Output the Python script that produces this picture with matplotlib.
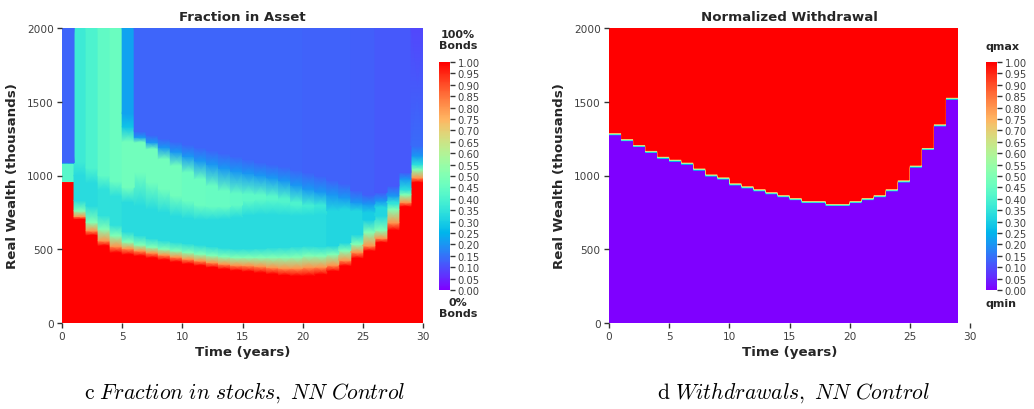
import numpy as np
import matplotlib
matplotlib.use("Agg")
import matplotlib.pyplot as plt

plt.rcParams["font.family"] = ["DejaVu Sans"]
plt.rcParams["mathtext.fontset"] = "cm"

# ---------------------------------------------------------------
# Fraction in asset: per-year profile over wealth (thousands).
# Each array gives, for years 0..29, the wealth at which the
# profile reaches the listed level.
# ---------------------------------------------------------------
years = np.arange(30)

red_top = [958, 705, 595, 525, 478, 465, 456, 443, 430, 416, 402, 390, 378, 367, 357,
           350, 342, 333, 324, 320, 321, 330, 352, 388, 440, 490, 547, 630, 790, 954]
orange_w = [959, 722, 626, 558, 520, 505, 490, 476, 462, 448, 434, 422, 410, 400, 392,
            390, 385, 377, 372, 372, 378, 380, 392, 425, 480, 524, 575, 680, 818, 985]
green_w = [961, 760, 683, 637, 592, 550, 530, 515, 502, 490, 479, 468, 458, 450, 445,
           445, 445, 445, 445, 447, 456, 455, 465, 490, 535, 615, 630, 770, 870, 1040]
cyan_lo = [964, 830, 795, 730, 665, 620, 595, 575, 560, 550, 540, 530, 520, 510, 505,
           505, 508, 512, 515, 520, 524, 520, 525, 545, 600, 700, 727, 810, 905, 1075]
cyan_hi = [1080, 1000, 950, 905, 860, 818, 795, 772, 750, 725, 710, 700, 700, 705, 715,
           730, 735, 735, 730, 727, 727, 735, 760, 770, 760, 750, 784, 818, 909, 1078]
upper_lo = [1081, 1090, 1050, 1000, 960, 920, 1022, 954, 909, 863, 829, 800, 790, 790, 800,
            830, 840, 835, 820, 800, 790, 790, 760, 770, 760, 750, 784, 818, 909, 1078]
upper_hi = [1082, 2000, 2000, 2000, 2000, 1230, 1225, 1180, 1112, 1067, 1022, 976, 931, 897, 880,
            875, 870, 860, 845, 820, 800, 800, 760, 770, 760, 750, 784, 818, 909, 1078]
sky_w = [1085, 2000, 2000, 2000, 2000, 1330, 1260, 1225, 1190, 1160, 1130, 1100, 1075, 1050, 1030,
         1015, 1000, 985, 965, 935, 909, 890, 870, 850, 818, 807, 829, 863, 977, 1134]
blue_w = [1090, 2000, 2000, 2000, 2000, 1420, 1300, 1275, 1250, 1230, 1210, 1190, 1170, 1150, 1130,
          1110, 1090, 1075, 1060, 1040, 1022, 999, 970, 945, 900, 870, 886, 931, 1022, 1202]

green_val = [0.45] + [0.50] * 29
cyan_val = [0.42, 0.33, 0.33, 0.34, 0.34] + [0.33] * 17 + [0.32, 0.32, 0.32, 0.30, 0.32, 0.35, 0.33, 0.33]
upper_val = [0.42, 0.37, 0.40, 0.44, 0.46, 0.47, 0.47, 0.47, 0.47, 0.47, 0.46, 0.46, 0.45, 0.45, 0.44,
             0.43, 0.43, 0.42, 0.41, 0.40, 0.38, 0.36, 0.32, 0.32, 0.32, 0.30, 0.32, 0.35, 0.33, 0.33]
sky_val = [0.20, 0.37, 0.40, 0.44, 0.46, 0.28] + [0.20] * 24
blue_val = [0.13, 0.37, 0.40, 0.44, 0.46, 0.22] + [0.13] * 14 + [0.127] * 4 + [0.122] * 2 + [0.115] * 3 + [0.14]
top_val = [0.13, 0.37, 0.40, 0.44, 0.46, 0.22] + [0.13] * 14 + [0.127] * 4 + [0.122] * 2 + [0.115] * 3 + [0.09]

# ---------------------------------------------------------------
# Normalized withdrawal: wealth above which withdrawal is qmax
# (years 0..28)
# ---------------------------------------------------------------
withdraw_years = np.arange(29)
q_threshold = [1275, 1232, 1198, 1162, 1128, 1096, 1071, 1040, 1008, 976, 949, 917, 895, 881,
               863, 845, 827, 814, 805, 805, 814, 836, 859, 899, 965, 1058, 1184, 1342, 1519]

W_MAX = 2000
x_ticks = [0, 5, 10, 15, 20, 25, 30]
y_ticks = [0, 500, 1000, 1500, 2000]
cbar_ticks = np.round(np.arange(0, 1.0001, 0.05), 2)

FIG_W, FIG_H = 1034, 410
fig = plt.figure(figsize=(FIG_W / 100, FIG_H / 100), dpi=100)


def px_box(x0, y0, x1, y1):
    return [x0 / FIG_W, 1 - y1 / FIG_H, (x1 - x0) / FIG_W, (y1 - y0) / FIG_H]


ax1 = fig.add_axes(px_box(62, 29, 423, 324))
cax1 = fig.add_axes(px_box(439, 63, 450, 291))
ax2 = fig.add_axes(px_box(609, 29, 970, 324))
cax2 = fig.add_axes(px_box(986, 63, 997, 291))

TEXT = "#262626"
TICK_TEXT = "#404040"

# ---- left panel: gouraud-shaded mesh, constant within each year ----
n = len(years)
zeros = np.zeros(n)
ones = np.ones(n)
knot_w = np.vstack([zeros, red_top, orange_w, green_w, cyan_lo, cyan_hi,
                    upper_lo, upper_hi, sky_w, blue_w, np.full(n, W_MAX)]).astype(float)
knot_w = np.maximum.accumulate(knot_w, axis=0)
knot_v = np.vstack([ones, ones, 0.8 * ones, green_val, cyan_val, cyan_val,
                    upper_val, upper_val, sky_val, blue_val, top_val]).astype(float)

col_x = np.column_stack([years, years + 1]).ravel().astype(float)
X = np.tile(col_x, (knot_w.shape[0], 1))
Y = np.repeat(knot_w, 2, axis=1)
C = np.repeat(knot_v, 2, axis=1)
mesh = ax1.pcolormesh(X, Y, C, shading="gouraud", cmap="rainbow", vmin=0, vmax=1)

# ---- right panel: qmin below the threshold, qmax above ----
w_rows = np.arange(10, W_MAX, 20)
q_field = (w_rows[:, None] > np.asarray(q_threshold)[None, :]).astype(float)
q_field = np.repeat(q_field, 12, axis=1)
img = ax2.imshow(q_field, origin="lower", aspect="auto", cmap="rainbow", vmin=0, vmax=1,
                 extent=[0, len(withdraw_years), 0, W_MAX],
                 interpolation="bilinear", interpolation_stage="data")

for ax, title in [(ax1, "Fraction in Asset"), (ax2, "Normalized Withdrawal")]:
    ax.set_xlim(0, 30)
    ax.set_ylim(0, W_MAX)
    ax.set_xticks(x_ticks)
    ax.set_yticks(y_ticks)
    for s in ax.spines.values():
        s.set_visible(False)
    ax.tick_params(direction="out", length=3.5, width=1.0, color="#333333",
                   labelsize=7.6, labelcolor=TICK_TEXT, pad=2.5)
    ax.set_title(title, fontsize=9.6, fontweight="bold", color=TEXT, pad=6)
    ax.set_xlabel("Time (years)", fontsize=9.6, fontweight="bold", color=TEXT)
    ax.set_ylabel("Real Wealth (thousands)", fontsize=9.6, fontweight="bold", color=TEXT)
    ax.xaxis.set_label_coords(0.5, -0.075)
    ax.yaxis.set_label_coords(-0.118, 0.5)

for cax, mappable in [(cax1, mesh), (cax2, img)]:
    cb = fig.colorbar(mappable, cax=cax, ticks=cbar_ticks)
    cb.outline.set_visible(False)
    cb.ax.set_yticklabels([f"{t:.2f}" for t in cbar_ticks])
    cb.ax.tick_params(direction="out", length=3.5, width=1.0, color="#333333",
                      labelsize=7.2, labelcolor=TICK_TEXT, pad=2)

fig.text(439 / FIG_W, 1 - 30 / FIG_H, "100%\nBonds", ha="left", va="top",
         multialignment="center", fontsize=8, fontweight="bold", color=TEXT, linespacing=1.15)
fig.text(439 / FIG_W, 1 - 298 / FIG_H, "0%\nBonds", ha="left", va="top",
         multialignment="center", fontsize=8, fontweight="bold", color=TEXT, linespacing=1.15)
fig.text(986 / FIG_W, 1 - 42 / FIG_H, "qmax", ha="left", va="top",
         fontsize=8, fontweight="bold", color=TEXT)
fig.text(986 / FIG_W, 1 - 299 / FIG_H, "qmin", ha="left", va="top",
         fontsize=8, fontweight="bold", color=TEXT)

fig.text(245 / FIG_W, 1 - 393 / FIG_H,
         r"$\mathrm{c}\ \mathit{Fraction\ in\ stocks,\ NN\ Control}$",
         ha="center", va="center", fontsize=15.5, color="black")
fig.text(793 / FIG_W, 1 - 393 / FIG_H,
         r"$\mathrm{d}\ \mathit{Withdrawals,\ NN\ Control}$",
         ha="center", va="center", fontsize=15.5, color="black")

fig.savefig("out.png", dpi=100)
